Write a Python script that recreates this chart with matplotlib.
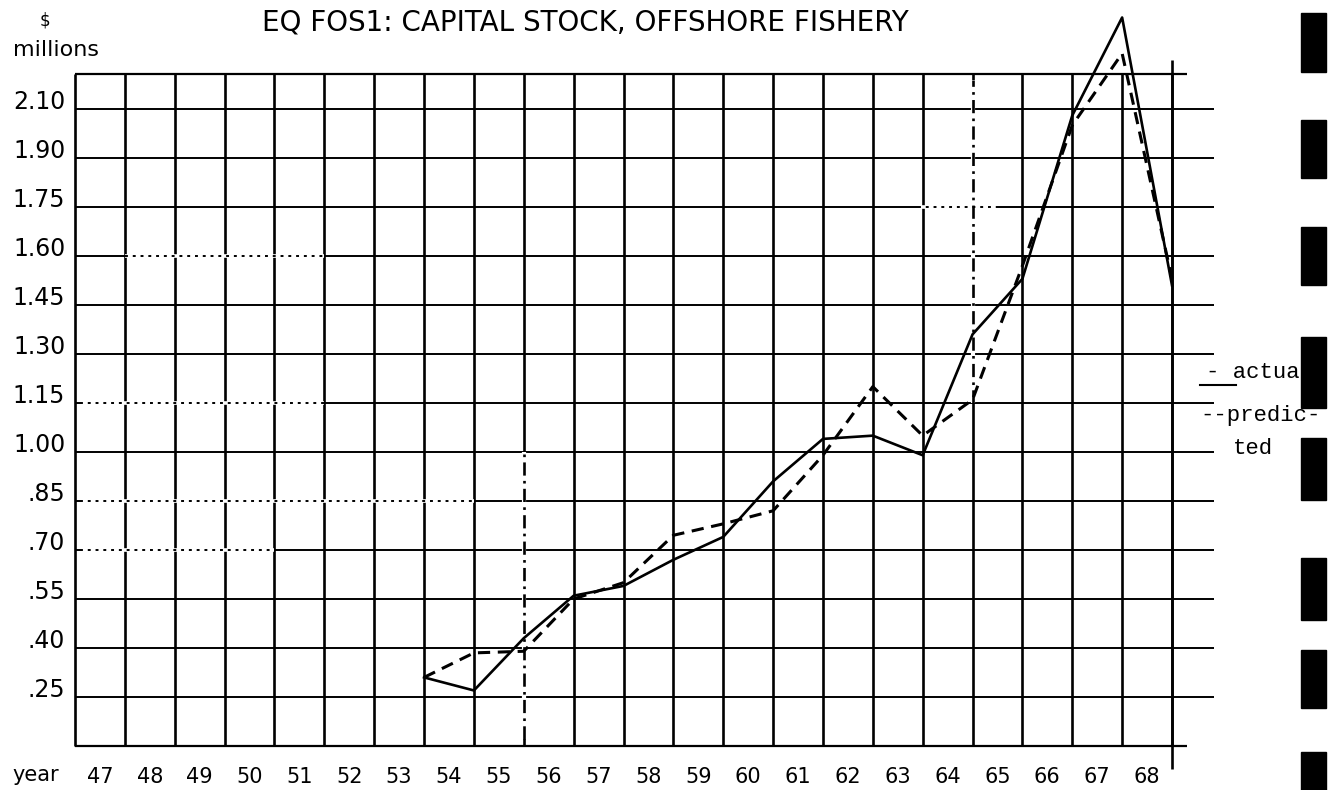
import matplotlib
matplotlib.use("Agg")
import matplotlib.pyplot as plt
from matplotlib.transforms import ScaledTranslation
from matplotlib.patches import Rectangle
from matplotlib.lines import Line2D

# values ($ millions)
years = [53, 54, 55, 56, 57, 58, 59, 60, 61, 62, 63, 64, 65, 66, 67, 68]
actual = [0.31, 0.27, 0.43, 0.56, 0.59, 0.67, 0.74, 0.91, 1.04, 1.05, 0.99, 1.36, 1.53, 2.03, 2.33, 1.51]
predicted = [0.31, 0.385, 0.39, 0.55, 0.60, 0.745, 0.78, 0.82, 0.99, 1.20, 1.05, 1.16, 1.57, 2.00, 2.22, 1.53]

tick_years = [47, 48, 49, 50, 51, 52, 53, 54, 55, 56, 57, 58, 59, 60, 61, 62, 63, 64, 65, 66, 67, 68]
y_ticks = [0.25, 0.40, 0.55, 0.70, 0.85, 1.00, 1.15, 1.30, 1.45, 1.60, 1.75, 1.90, 2.05]
y_labels = [".25", ".40", ".55", ".70", ".85", "1.00", "1.15", "1.30", "1.45", "1.60", "1.75", "1.90", "2.10"]

W, H = 1332, 790
fig = plt.figure(figsize=(W / 100, H / 100), dpi=100)
fig.patch.set_facecolor("white")

# axes box = grid frame of the scan
ax = fig.add_axes([75 / W, 44 / H, 1097 / W, 672 / H])
x0, x1 = 46, 68
y0, y1 = 0.10, 2.157
ax.set_xlim(x0, x1)
ax.set_ylim(y0, y1)
for s in ax.spines.values():
    s.set_visible(False)

# hand drawn grid
ax.vlines(range(x0, x1 + 1), y0, y1, color="black", lw=1.9, clip_on=False, zorder=1)
ax.vlines(x1, 0.03, 2.20, color="black", lw=1.9, clip_on=False, zorder=1)
ax.hlines(y_ticks, x0, 68.85, color="black", lw=1.4, clip_on=False, zorder=1)
ax.hlines([y0, y1], x0, 68.3, color="black", lw=1.6, clip_on=False, zorder=1)

# stretches of the grid that were ruled dotted / dash-dotted
dotted_h = [(0.85, 46.1, 54), (0.70, 46.1, 50), (1.15, 46.1, 51), (1.60, 47, 51), (1.75, 62.9, 64.5)]
for yv, xa, xb in dotted_h:
    ax.hlines(yv, xa, xb, color="white", lw=2.6, zorder=1.5)
    ax.hlines(yv, xa, xb, color="black", lw=1.4, ls=(0, (1.5, 2.5)), zorder=1.6)
dashdot_v = [(55, 0.12, 1.0), (64, 1.15, 2.14)]
for xv, ya, yb in dashdot_v:
    ax.vlines(xv, ya, yb, color="white", lw=3.0, zorder=1.5)
    ax.vlines(xv, ya, yb, color="black", lw=1.9, ls=(0, (5, 2, 1, 2)), zorder=1.6)

# series
ax.plot(years, actual, color="black", lw=1.9, clip_on=False, zorder=3)
ax.plot(years, predicted, color="black", lw=2.2, ls=(0, (4, 2.5)), clip_on=False, zorder=3)

# ticks
ax.set_xticks(tick_years, [str(y) for y in tick_years])
ax.set_yticks(y_ticks, y_labels)
ax.tick_params(axis="x", length=0, labelsize=15, pad=15)
ax.tick_params(axis="y", length=0, labelsize=17, pad=7)
shift = ScaledTranslation(-0.25, 0, fig.dpi_scale_trans)
for lbl in ax.get_xticklabels():
    lbl.set_transform(lbl.get_transform() + shift)
for lbl in ax.get_yticklabels():
    lbl.set_va("baseline")

# titles / captions
fig.text(585 / W, 1 - 22 / H, "EQ FOS1: CAPITAL STOCK, OFFSHORE FISHERY",
         ha="center", va="center", fontsize=20)
fig.text(45 / W, 1 - 20 / H, "$", ha="center", va="center", fontsize=12)
fig.text(13 / W, 1 - 50 / H, "millions", ha="left", va="center", fontsize=16)
fig.text(36 / W, 1 - 775 / H, "year", ha="center", va="center", fontsize=15)

# typed legend at the right
fig.text(1206 / W, 1 - 372 / H, "- actual", ha="left", va="center",
         fontsize=16, family="Liberation Mono")
fig.add_artist(Line2D([1200 / W, 1236 / W], [1 - 385 / H, 1 - 385 / H],
                      color="black", lw=1.5))
fig.text(1200 / W, 1 - 416 / H, "--predic-", ha="left", va="center",
         fontsize=16, family="Liberation Mono")
fig.text(1233 / W, 1 - 448 / H, "ted", ha="left", va="center",
         fontsize=16, family="Liberation Mono")

# binder punch marks along the right edge of the scan
holes = [(13, 72), (120, 178), (227, 285), (337, 408), (438, 500), (558, 620), (650, 708), (752, 790)]
for top, bot in holes:
    fig.add_artist(Rectangle((1301 / W, 1 - bot / H), 25 / W, (bot - top) / H,
                             color="black", zorder=10))

fig.savefig("out.png", dpi=100)
